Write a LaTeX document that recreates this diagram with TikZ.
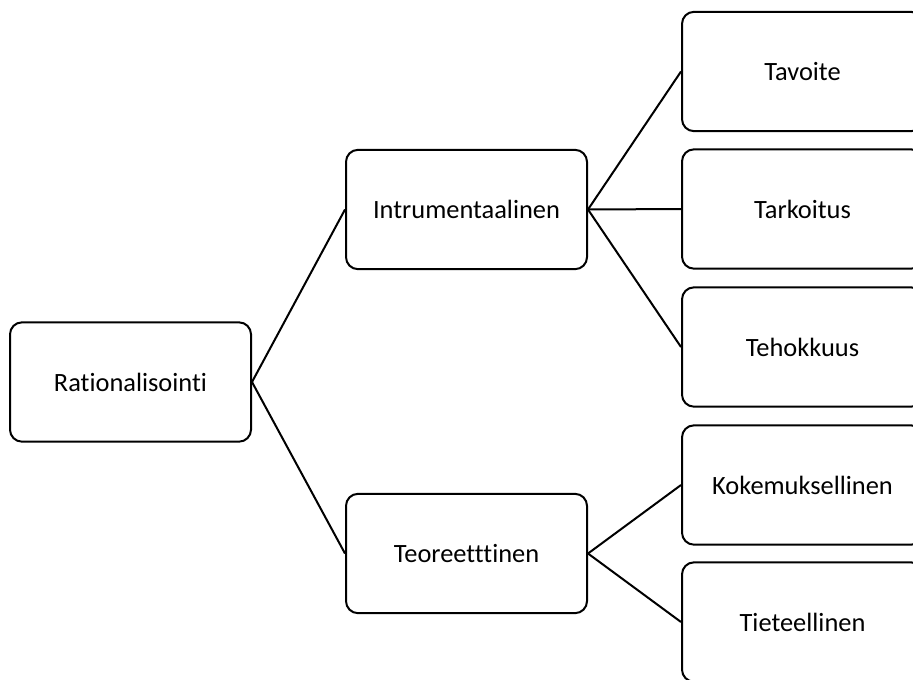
\documentclass[tikz,border=0pt]{standalone}
\usepackage{fontspec}
\setmainfont[Ligatures={NoCommon}]{Carlito}

\begin{document}
\begin{tikzpicture}[x=0.75pt,y=-0.75pt]

        \useasboundingbox (0,0) rectangle (913,679);
        \clip (0,0) rectangle (913,679);

        \begin{scope}[every node/.style={rectangle, draw, line width=1.5pt, rounded corners=9pt,
            minimum width=180.75pt, minimum height=89.5pt, inner sep=0pt,
            font=\fontsize{19.8}{23}\selectfont}]
          \node (1) at (130.5,382)   {Rationalisointi};
          \node (2) at (466.5,209.5) {Intrumentaalinen};
          \node (3) at (466.5,553.5) {Teoreetttinen};
          \node (4) at (802.5,71.5)  {Tavoite};
          \node (5) at (802.5,209)   {Tarkoitus};
          \node (6) at (802.5,347)   {Tehokkuus};
          \node (7) at (802.5,485)   {Kokemuksellinen};
          \node (8) at (802.5,622)   {Tieteellinen};
        \end{scope}

        \begin{scope}[every edge/.style={draw, line width=1.5pt}]
          \path (1.east) edge (2.west);
          \path (1.east) edge (3.west);
          \path (2.east) edge (4.west);
          \path (2.east) edge (5.west);
          \path (2.east) edge (6.west);
          \path (3.east) edge (7.west);
          \path (3.east) edge (8.west);
        \end{scope}

      \end{tikzpicture}
\end{document}
